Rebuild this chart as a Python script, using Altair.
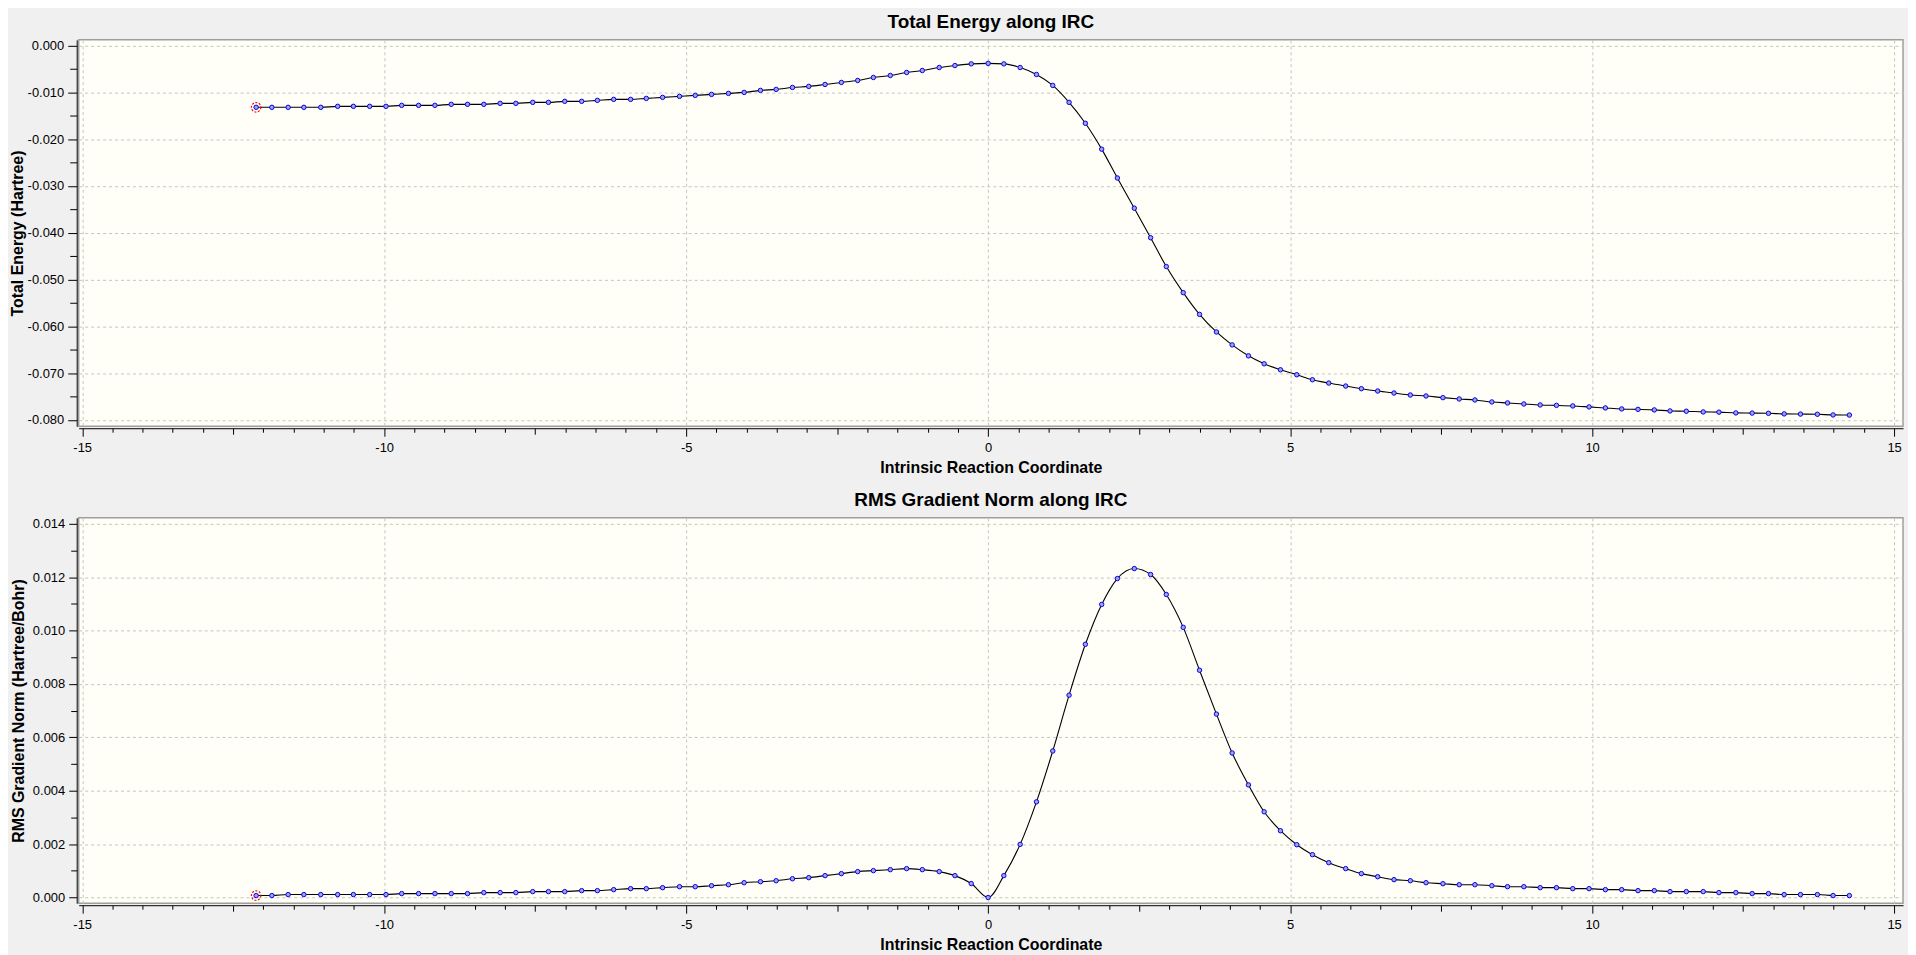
import altair as alt
import pandas as pd

# ---- data ----
IRC = [-12.12, -11.86, -11.59, -11.33, -11.05, -10.77, -10.51, -10.24, -9.97, -9.71,
       -9.43, -9.16, -8.89, -8.62, -8.35, -8.08, -7.82, -7.54, -7.28, -7.01,
       -6.73, -6.47, -6.20, -5.92, -5.66, -5.39, -5.11, -4.85, -4.58, -4.30,
       -4.04, -3.77, -3.51, -3.24, -2.97, -2.70, -2.43, -2.16, -1.90, -1.62,
       -1.35, -1.09, -0.81, -0.55, -0.28, 0.00, 0.26, 0.53, 0.80, 1.07,
       1.34, 1.61, 1.88, 2.14, 2.42, 2.69, 2.95, 3.23, 3.50, 3.78,
       4.04, 4.31, 4.57, 4.84, 5.11, 5.37, 5.64, 5.92, 6.18, 6.45,
       6.72, 6.99, 7.25, 7.53, 7.80, 8.06, 8.34, 8.60, 8.87, 9.14,
       9.41, 9.68, 9.95, 10.22, 10.49, 10.76, 11.03, 11.29, 11.56, 11.84,
       12.10, 12.38, 12.65, 12.92, 13.18, 13.45, 13.73, 13.99, 14.26]

ENERGY = [-0.01319, -0.01319, -0.01319, -0.01319, -0.01319,
          -0.01298, -0.01298, -0.01298, -0.01298,
          -0.01277, -0.01277, -0.01277,
          -0.01255, -0.01255, -0.01255,
          -0.01234, -0.01234, -0.01213, -0.01213, -0.01191, -0.01191,
          -0.01170, -0.01149, -0.01149, -0.01128, -0.01106, -0.01085, -0.01064, -0.01043, -0.01021,
          -0.01000, -0.00957, -0.00936, -0.00894, -0.00872, -0.00830, -0.00787, -0.00745, -0.00681, -0.00638,
          -0.00574, -0.00532, -0.00468, -0.00426, -0.00390, -0.00380, -0.00390, -0.00468, -0.00617, -0.00851,
          -0.01213, -0.01660, -0.02213, -0.02830, -0.03475, -0.04106, -0.04723, -0.05280, -0.05745, -0.06121,
          -0.06397, -0.06631, -0.06801, -0.06929, -0.07035, -0.07142, -0.07213, -0.07277, -0.07333, -0.07383,
          -0.07426, -0.07468, -0.07489, -0.07525, -0.07553, -0.07574, -0.07617, -0.07638, -0.07660, -0.07681,
          -0.07690, -0.07702, -0.07723, -0.07745, -0.07766, -0.07775, -0.07787, -0.07809, -0.07815, -0.07830,
          -0.07835, -0.07851, -0.07855, -0.07860, -0.07872, -0.07876, -0.07880, -0.07894, -0.07897]

GRAD = [0.000074, 0.000074,
        0.000111, 0.000111, 0.000111, 0.000111, 0.000111, 0.000111, 0.000111,
        0.000148, 0.000148, 0.000148, 0.000148, 0.000148,
        0.000185, 0.000185, 0.000185,
        0.000222, 0.000222, 0.000222,
        0.000259, 0.000259,
        0.000296, 0.000333, 0.000333, 0.000370, 0.000407, 0.000407, 0.000444, 0.000481,
        0.000556, 0.000593, 0.000630, 0.000704, 0.000745, 0.000821, 0.000896, 0.000971, 0.001008, 0.001045,
        0.001083, 0.001045, 0.000971, 0.000821, 0.000523, 0.0, 0.000821, 0.001991, 0.003584, 0.005489,
        0.007580, 0.009484, 0.010977, 0.011947, 0.012321, 0.012097, 0.011350, 0.010118, 0.008513, 0.006870,
        0.005414, 0.004219, 0.003211, 0.002502, 0.001979, 0.001606, 0.001307, 0.001083, 0.000896, 0.000780,
        0.000670, 0.000630, 0.000556, 0.000519, 0.000481, 0.000481, 0.000444, 0.000407, 0.000407, 0.000370,
        0.000370, 0.000333, 0.000333, 0.000296, 0.000296, 0.000259, 0.000259, 0.000222, 0.000222, 0.000222,
        0.000185, 0.000185, 0.000148, 0.000148, 0.000111, 0.000111, 0.000111, 0.000074, 0.000074]

X_TICKS = [-15 + 0.5 * i for i in range(61)]
Y1_TICKS = [round(-0.005 * k, 3) for k in range(17)]
Y2_TICKS = [round(0.001 * k, 3) for k in range(15)]

TITLE_TOP = "Total Energy along IRC"
TITLE_BOTTOM = "RMS Gradient Norm along IRC"
X_TITLE = "Intrinsic Reaction Coordinate"
Y1_TITLE = "Total Energy (Hartree)"
Y2_TITLE = "RMS Gradient Norm (Hartree/Bohr)"

assert len(IRC) == len(ENERGY) == len(GRAD)

df = pd.DataFrame({"irc": IRC, "energy": ENERGY, "grad": GRAD})
df_first = df.iloc[[0]]

FONT = "Liberation Sans"
W = 1832
X_DOMAIN = [-15.058, 15.148]

x_major = "datum.value % 5 === 0"
x_mid = "datum.value % 2.5 === 0"


def x_axis():
    return alt.Axis(
        values=X_TICKS,
        title=X_TITLE,
        labelExpr="datum.value % 5 === 0 ? (datum.value < 0 ? '-' : '') + format(abs(datum.value), 'd') : ''",
        tickSize={"condition": [{"test": x_major, "value": 8}, {"test": x_mid, "value": 6}], "value": 4},
        gridOpacity={"condition": {"test": x_major, "value": 1}, "value": 0},
        offset=2, labelPadding=5, titlePadding=5,
        labelFlush=False, labelOverlap=False, grid=True,
    )


def y_axis(ticks, major_test, big, small, title, title_pad):
    return alt.Axis(
        values=ticks,
        title=title,
        labelExpr="(" + major_test + ") ? (datum.value < 0 ? '-' : '') + format(abs(datum.value), '.3f') : ''",
        tickSize={"condition": {"test": major_test, "value": big}, "value": small},
        gridOpacity={"condition": {"test": major_test, "value": 1}, "value": 0},
        offset=2, labelPadding=4, titlePadding=title_pad,
        labelFlush=False, labelOverlap=False, grid=True,
    )


def panel(col, ydomain, yaxis, title, height):
    xs = alt.Scale(domain=X_DOMAIN, nice=False, zero=False)
    ys = alt.Scale(domain=ydomain, nice=False, zero=False)
    xa = x_axis()
    enc = dict(
        x=alt.X("irc:Q", scale=xs, axis=xa),
        y=alt.Y(f"{col}:Q", scale=ys, axis=yaxis),
    )
    base = alt.Chart(df)
    line = base.mark_line(color="black", strokeWidth=1.1, interpolate="monotone").encode(**enc)
    pts = base.mark_point(
        shape="circle", filled=True, color="#A4A4CC", fill="#A4A4CC",
        stroke="#0000FF", strokeWidth=1, size=20, opacity=1,
    ).encode(**enc)
    sel = alt.Chart(df_first).mark_point(
        shape="circle", filled=False, color="red", stroke="red",
        strokeDash=[2, 1.5], strokeWidth=1.2, size=90, opacity=1,
    ).encode(**enc)
    return alt.layer(line, pts, sel).properties(
        width=W, height=height,
        title=alt.TitleParams(title, fontSize=19, fontWeight="bold", font=FONT,
                              anchor="middle", offset=8, color="black"),
    )


top = panel(
    "energy", [-0.08136, 0.00123],
    y_axis(Y1_TICKS, "abs(round(datum.value * 1000)) % 10 === 0", 9, 7, Y1_TITLE, 2),
    TITLE_TOP, 388,
)
bottom = panel(
    "grad", [-0.000213, 0.01422],
    y_axis(Y2_TICKS, "abs(round(datum.value * 1000)) % 2 === 0", 8, 6, Y2_TITLE, 6),
    TITLE_BOTTOM, 387,
)

chart = alt.vconcat(top, bottom, spacing=14).properties(
    background="#F0F0F0",
    padding={"left": 0, "top": 2, "right": 4, "bottom": 2},
).configure_view(
    fill="#FFFFF7", stroke="#9E9E9E", strokeWidth=1.5,
).configure_axis(
    labelFont=FONT, labelFontSize=13, labelColor="black",
    titleFont=FONT, titleFontSize=16, titleFontWeight="bold", titleColor="black",
    domainColor="black", domainWidth=1, tickColor="black", tickWidth=1,
    gridColor="#C4C4C4", gridDash=[3, 3], gridWidth=1,
)

chart.save("out.html", embed_options={"renderer": "svg", "actions": False})
